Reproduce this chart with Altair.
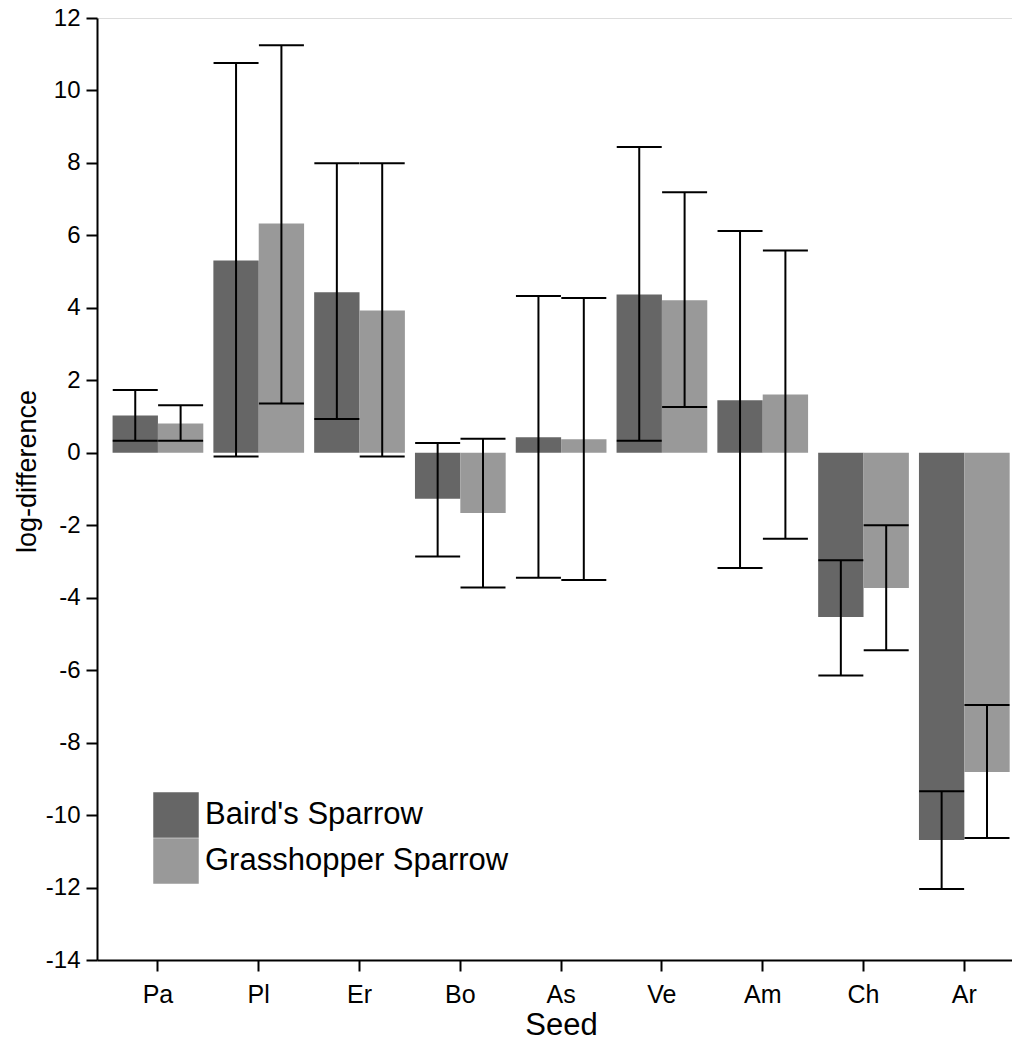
import altair as alt
import pandas as pd

seeds = ["Pa", "Pl", "Er", "Bo", "As", "Ve", "Am", "Ch", "Ar"]
series = ["Baird's Sparrow", "Grasshopper Sparrow"]

baird_mean = [1.03, 5.31, 4.43, -1.27, 0.43, 4.37, 1.45, -4.53, -10.69]
baird_low = [0.33, -0.10, 0.93, -2.86, -3.45, 0.33, -3.18, -6.15, -12.04]
baird_high = [1.73, 10.76, 7.99, 0.27, 4.33, 8.44, 6.12, -2.97, -9.34]

grass_mean = [0.81, 6.33, 3.93, -1.66, 0.37, 4.21, 1.61, -3.73, -8.81]
grass_low = [0.33, 1.36, -0.10, -3.72, -3.51, 1.26, -2.37, -5.45, -10.63]
grass_high = [1.31, 11.25, 7.99, 0.39, 4.27, 7.19, 5.58, -2.00, -6.96]

colors = ["#666666", "#999999"]

rows = []
for i, s in enumerate(seeds):
    rows.append(dict(seed=s, species=series[0], mean=baird_mean[i], low=baird_low[i], high=baird_high[i]))
    rows.append(dict(seed=s, species=series[1], mean=grass_mean[i], low=grass_low[i], high=grass_high[i]))
df = pd.DataFrame(rows)

FONT = "Liberation Sans"

x_axis = alt.Axis(
    title="Seed", labelAngle=0, labelFont=FONT, labelFontSize=25, labelColor="black",
    labelPadding=11, tickSize=11, tickWidth=2, tickColor="black",
    domainColor="black", domainWidth=2, grid=False,
    titleFont=FONT, titleFontSize=31, titleFontWeight="normal", titleColor="black",
    titleX=464, titleY=74, titleBaseline="alphabetic", titleAlign="center",
)
y_axis = alt.Axis(
    title="log-difference", values=list(range(-14, 13, 2)), labelFont=FONT, labelFontSize=24,
    labelExpr="'' + datum.value",
    labelColor="black", labelPadding=6, tickSize=11, tickWidth=2, tickColor="black",
    domainColor="black", domainWidth=2, grid=False, labelOverlap=False,
    titleFont=FONT, titleFontSize=27, titleFontWeight="normal", titleColor="black",
    titleAngle=270, titleBaseline="alphabetic", titleAlign="center", titleX=-62, titleY=453,
)

x_enc = alt.X("seed:N", sort=seeds,
              scale=alt.Scale(paddingInner=0.1, paddingOuter=0.0888, align=0.87),
              axis=x_axis)
xo_enc = alt.XOffset("species:N", sort=series, scale=alt.Scale(paddingInner=0, paddingOuter=0))
y_scale = alt.Scale(domain=[-14, 12], nice=False, zero=False)

bars = alt.Chart(df).mark_bar().encode(
    x=x_enc,
    xOffset=xo_enc,
    y=alt.Y("mean:Q", scale=y_scale, axis=y_axis),
    y2=alt.Y2(datum=0),
    color=alt.Color(
        "species:N",
        scale=alt.Scale(domain=series, range=colors),
        legend=alt.Legend(
            orient="none", legendX=56, legendY=774, title=None,
            symbolType="square", symbolSize=2070, symbolStrokeWidth=0, symbolOpacity=1,
            labelFont=FONT, labelFontSize=31, labelColor="black", labelOffset=6,
            rowPadding=0, padding=0, labelLimit=500,
        ),
    ),
)

rules = alt.Chart(df).mark_rule(color="black", strokeWidth=2).encode(
    x=x_enc, xOffset=xo_enc,
    y=alt.Y("low:Q", scale=y_scale, axis=y_axis),
    y2="high:Q",
)
caps_lo = alt.Chart(df).mark_tick(color="black", size=45, thickness=2, orient="horizontal", opacity=1).encode(
    x=x_enc, xOffset=xo_enc,
    y=alt.Y("low:Q", scale=y_scale, axis=y_axis),
)
caps_hi = alt.Chart(df).mark_tick(color="black", size=45, thickness=2, orient="horizontal", opacity=1).encode(
    x=x_enc, xOffset=xo_enc,
    y=alt.Y("high:Q", scale=y_scale, axis=y_axis),
)

chart = alt.layer(bars, rules, caps_lo, caps_hi).properties(
    width=915, height=942,
    padding={"left": 89, "top": 10, "right": 0, "bottom": 78},
    autosize=alt.AutoSizeParams(type="none"),
).configure_view(strokeWidth=0).configure(background="white")

chart.save("out.html", embed_options={"renderer": "svg", "actions": False})
